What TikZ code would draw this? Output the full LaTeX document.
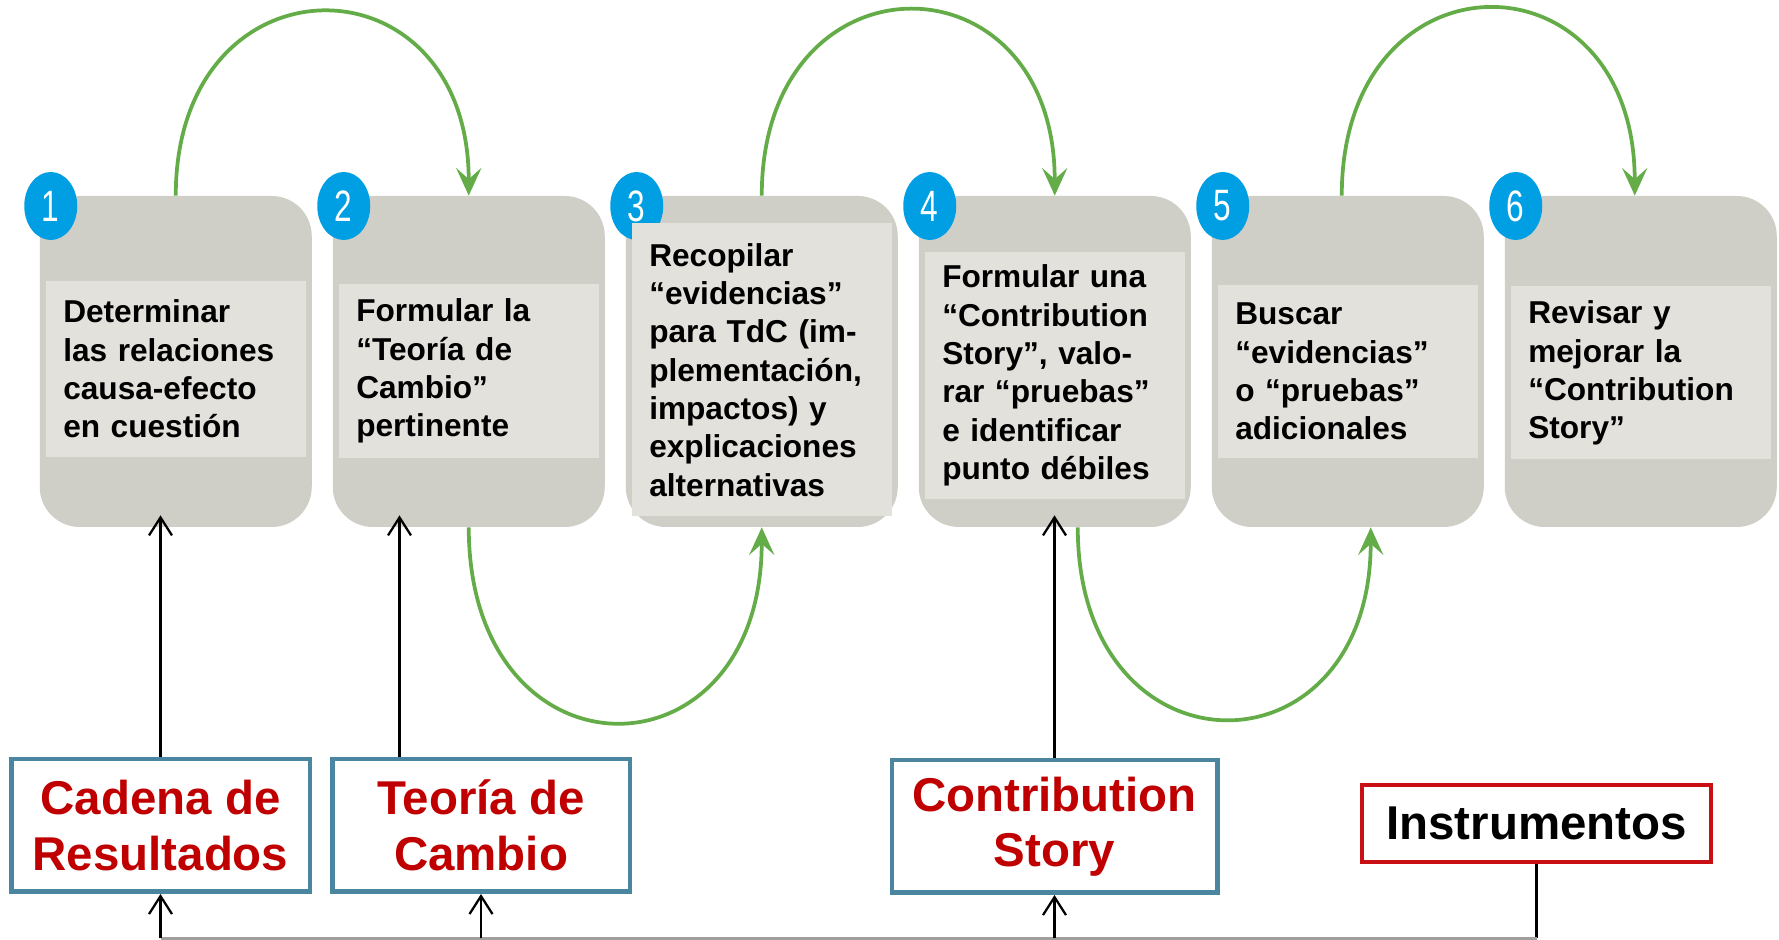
\documentclass[tikz,border=0pt]{standalone}
\usepackage{fontspec}
\usepackage{graphicx}
\setmainfont{Liberation Sans}
\usetikzlibrary{arrows.meta, shapes.geometric}

\definecolor{boxgray}{RGB}{207,206,199}
\definecolor{innergray}{RGB}{227,225,219}
\definecolor{numblue}{RGB}{0,158,226}
\definecolor{arcgreen}{RGB}{100,172,72}
\definecolor{keyblue}{RGB}{74,134,160}
\definecolor{keyred}{RGB}{192,0,0}
\definecolor{toolred}{RGB}{200,16,20}

\newcommand{\stepnum}[1]{\scalebox{0.72}[1]{#1}}

\begin{document}
\begin{tikzpicture}[step node/.style={rectangle, rounded corners=0.8cm, fill=boxgray, minimum width=5.44cm, minimum height=6.62cm, inner sep=0},
task node/.style={rectangle, fill=innergray, text width=4.5cm, inner xsep=0.35cm, inner ysep=0, align=left, font=\fontsize{18}{21.8}\selectfont\bfseries},
num node/.style={ellipse, fill=numblue, minimum width=1.06cm, minimum height=1.36cm, inner sep=0, text=white, font=\fontsize{25}{25}\selectfont},
key node/.style={rectangle, draw=keyblue, line width=0.09cm, fill=white, text=keyred, minimum height=2.65cm, align=center, inner sep=0, font=\fontsize{27}{31.5}\selectfont\bfseries},
tool node/.style={rectangle, draw=toolred, line width=0.08cm, fill=white, minimum width=6.98cm, minimum height=1.54cm, inner sep=0, font=\fontsize{27}{31.5}\selectfont\bfseries},
green arc/.style={-{Stealth[length=0.55cm, width=0.5cm, inset=0.22cm]}, draw=arcgreen, line width=0.075cm},
black arrow/.style={-{Straight Barb[length=0.36cm, width=0.46cm]}, draw=black, line width=0.045cm},
bus line/.style={-, draw=black, line width=0.045cm}]
\useasboundingbox (0,0) rectangle (35.58,18.8);

% steps
\node[step node] (b1) at (3.515,11.57) {};
\node[step node] (b2) at (9.375,11.57) {};
\node[step node] (b3) at (15.235,11.57) {};
\node[step node] (b4) at (21.095,11.57) {};
\node[step node] (b5) at (26.955,11.57) {};
\node[step node] (b6) at (32.815,11.57) {};

% numbers
\node[num node] (c1) at (1.015,14.68) {\stepnum{1}};
\node[num node] (c2) at (6.875,14.68) {\stepnum{2}};
\node[num node] (c3) at (12.735,14.68) {\stepnum{3}};
\node[num node] (c4) at (18.595,14.68) {\stepnum{4}};
\node[num node] (c5) at (24.455,14.68) {\stepnum{5}};
\node[num node] (c6) at (30.315,14.68) {\stepnum{6}};

% step texts
\node[task node, minimum height=3.52cm] (t1) at (3.515,11.42) {Determinar\\las relaciones\\causa-efecto\\en cuestión};
\node[task node, minimum height=3.48cm] (t2) at (9.375,11.38) {Formular la\\“Teoría de\\Cambio”\\pertinente};
\node[task node, minimum height=5.86cm] (t3) at (15.235,11.40) {Recopilar\\“evidencias”\\para TdC (im-\\plementación,\\impactos) y\\explicaciones\\alternativas};
\node[task node, minimum height=4.94cm] (t4) at (21.095,11.29) {Formular una\\“Contribution\\Story”, valo-\\rar “pruebas”\\e identificar\\punto débiles};
\node[task node, minimum height=3.46cm] (t5) at (26.955,11.37) {Buscar\\“evidencias”\\o “pruebas”\\adicionales};
\node[task node, minimum height=3.46cm] (t6) at (32.815,11.34) {Revisar y\\mejorar la\\“Contribution\\Story”};

% keys
\node[key node, minimum width=5.97cm] (cr) at (3.21,2.29) {Cadena de\\Resultados};
\node[key node, minimum width=5.95cm] (tc) at (9.62,2.29) {Teoría de\\Cambio};
\node[key node, minimum width=6.51cm] (cs) at (21.09,2.27) {Contribution\\Story};
\node[tool node] (in) at (30.73,2.33) {Instrumentos};

% free ends
\coordinate (tx) at (7.99,0);
\coordinate (bus) at (30.73,0.03);

\path[]
% step -> step, above
(b1) edge [green arc, out=90, in=90, looseness=2.14] (b2)
(b3) edge [green arc, out=90, in=90, looseness=2.16] (b4)
([xshift=-0.12cm]b5.north) edge [green arc, out=90, in=90, looseness=2.18] ([xshift=-0.12cm]b6.north)

% step -> step, below
(b2) edge [green arc, out=-90, in=-90, looseness=2.27] (b3)
([xshift=0.46cm]b4.south) edge [green arc, out=-90, in=-90, looseness=2.23] ([xshift=0.46cm]b5.south)

% keys -> steps
(cr.north) edge [black arrow, shorten >=-0.24cm] (cr.north |- b1.south)
(tx |- tc.north) edge [black arrow, shorten >=-0.24cm] (tx |- b2.south)
(cs.north) edge [black arrow, shorten >=-0.24cm] (cs.north |- b4.south)

% instrumentos -> keys
(in.south) edge [bus line] (bus)
(bus) edge [bus line, draw=gray!75] (bus -| cr.south)
(bus -| cr.south) edge [black arrow] (cr.south)
(bus -| tc.south) edge [black arrow] (tc.south)
(bus -| cs.south) edge [black arrow] (cs.south)
;

\end{tikzpicture}
\end{document}
